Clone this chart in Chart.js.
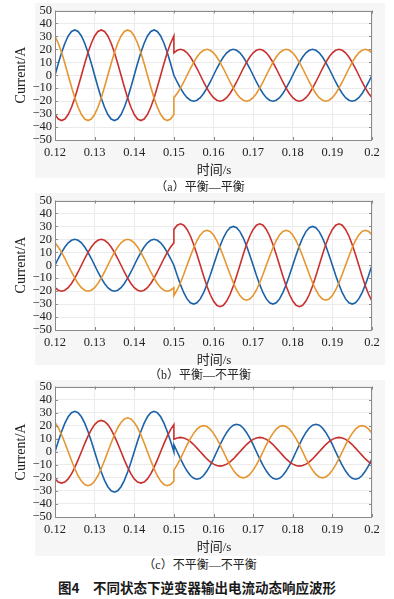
<!DOCTYPE html>
<html><head><meta charset="utf-8">
<script src="https://cdn.jsdelivr.net/npm/chart.js@4/dist/chart.umd.min.js"></script>
<style>
html,body{margin:0;padding:0;background:#fff}
body{width:394px;height:599px;position:relative;overflow:hidden;font-family:"Liberation Serif","Noto Sans CJK SC",serif;color:#222}
.bg{position:absolute;background:#f6f6f6}
canvas{position:absolute;left:0}
.c{position:absolute;white-space:nowrap;transform:translate(-50%,-50%)}
.yl{position:absolute;white-space:nowrap;transform:translate(-50%,-50%) rotate(-90deg);font-size:14px}
.xl{font-size:13px}
.cap{font-size:12px;font-family:"Liberation Serif","Noto Sans CJK SC",serif}
.fig{font-size:13.5px;font-weight:bold;font-family:"Noto Sans CJK SC",sans-serif;color:#1a1a1a}
</style></head>
<body>
<div class="bg" style="left:35px;top:3px;width:350px;height:175px"></div>
<div class="bg" style="left:35px;top:193px;width:350px;height:172px"></div>
<div class="bg" style="left:35px;top:380px;width:350px;height:176px"></div>
<canvas id="ca" width="394" height="160" style="top:0px"></canvas>
<canvas id="cb" width="394" height="160" style="top:190px"></canvas>
<canvas id="cc" width="394" height="161" style="top:376px"></canvas>
<div class="yl" style="left:21px;top:75px">Current/A</div>
<div class="yl" style="left:21px;top:265px">Current/A</div>
<div class="yl" style="left:21px;top:452px">Current/A</div>
<div class="c xl" style="left:214px;top:168px">时间/s</div>
<div class="c xl" style="left:214px;top:358px">时间/s</div>
<div class="c xl" style="left:214px;top:545px">时间/s</div>
<div class="c cap" style="left:200px;top:186px">（a）平衡—平衡</div>
<div class="c cap" style="left:200px;top:374px">（b）平衡—不平衡</div>
<div class="c cap" style="left:200px;top:564px">（c）不平衡—不平衡</div>
<div class="c fig" style="left:197px;top:587px">图4　不同状态下逆变器输出电流动态响应波形</div>
<script>
// time samples (s)
const tPre = [0.12,0.12083,0.12167,0.1225,0.12333,0.12417,
0.125,0.12583,0.12667,0.1275,0.12833,0.12917,
0.13,0.13083,0.13167,0.1325,0.13333,0.13417,
0.135,0.13583,0.13667,0.1375,0.13833,0.13917,
0.14,0.14083,0.14167,0.1425,0.14333,0.14417,
0.145,0.14583,0.14667,0.1475,0.14833,0.14917,
0.15];
const tPost = [0.15,0.15083,0.15167,0.1525,0.15333,0.15417,
0.155,0.15583,0.15667,0.1575,0.15833,0.15917,
0.16,0.16083,0.16167,0.1625,0.16333,0.16417,
0.165,0.16583,0.16667,0.1675,0.16833,0.16917,
0.17,0.17083,0.17167,0.1725,0.17333,0.17417,
0.175,0.17583,0.17667,0.1775,0.17833,0.17917,
0.18,0.18083,0.18167,0.1825,0.18333,0.18417,
0.185,0.18583,0.18667,0.1875,0.18833,0.18917,
0.19,0.19083,0.19167,0.1925,0.19333,0.19417,
0.195,0.19583,0.19667,0.1975,0.19833,0.19917,
0.2];

const xTickVals = [0.12,0.13,0.14,0.15,0.16,0.17,0.18,0.19,0.2];
const xTickLabels = ['0.12','0.13','0.14','0.15','0.16','0.17','0.18','0.19','0.2'];
const yTickVals = [-50,-40,-30,-20,-10,0,10,20,30,40,50];
const yTickLabels = ['\u221250','\u221240','\u221230','\u221220','\u221210','0','10','20','30','40','50'];

// (a) balanced -> balanced
const aBluePre = [0,9.1,17.5,24.7,30.3,33.8,35,33.8,30.3,24.7,17.5,9.1,0,-9.1,-17.5,-24.7,-30.3,-33.8,-35,-33.8,-30.3,-24.7,-17.5,-9.1,
0,9.1,17.5,24.7,30.3,33.8,35,33.8,30.3,24.7,17.5,9.1,0];
const aRedPre = [-30.3,-33.8,-35,-33.8,-30.3,-24.7,-17.5,-9.1,
0,9.1,17.5,24.7,30.3,33.8,35,33.8,30.3,24.7,17.5,9.1,0,-9.1,-17.5,-24.7,-30.3,-33.8,-35,-33.8,-30.3,-24.7,-17.5,-9.1,
0,9.1,17.5,24.7,30.3];
const aOrangePre = [30.3,24.7,17.5,9.1,0,-9.1,-17.5,-24.7,-30.3,-33.8,-35,-33.8,-30.3,-24.7,-17.5,-9.1,
0,9.1,17.5,24.7,30.3,33.8,35,33.8,30.3,24.7,17.5,9.1,0,-9.1,-17.5,-24.7,-30.3,-33.8,-35,-33.8,-30.3];
const aBluePost = [0,-5.2,-10,-14.1,-17.3,-19.3,-20,-19.3,-17.3,-14.1,-10,-5.2,
0,5.2,10,14.1,17.3,19.3,20,19.3,17.3,14.1,10,5.2,0,-5.2,-10,-14.1,-17.3,-19.3,-20,-19.3,-17.3,-14.1,-10,-5.2,
0,5.2,10,14.1,17.3,19.3,20,19.3,17.3,14.1,10,5.2,0,-5.2,-10,-14.1,-17.3,-19.3,-20,-19.3,-17.3,-14.1,-10,-5.2,
0];
const aRedPost = [17.3,19.3,20,19.3,17.3,14.1,10,5.2,0,-5.2,-10,-14.1,-17.3,-19.3,-20,-19.3,-17.3,-14.1,-10,-5.2,
0,5.2,10,14.1,17.3,19.3,20,19.3,17.3,14.1,10,5.2,0,-5.2,-10,-14.1,-17.3,-19.3,-20,-19.3,-17.3,-14.1,-10,-5.2,
0,5.2,10,14.1,17.3,19.3,20,19.3,17.3,14.1,10,5.2,0,-5.2,-10,-14.1,-17.3];
const aOrangePost = [-17.3,-14.1,-10,-5.2,
0,5.2,10,14.1,17.3,19.3,20,19.3,17.3,14.1,10,5.2,0,-5.2,-10,-14.1,-17.3,-19.3,-20,-19.3,-17.3,-14.1,-10,-5.2,
0,5.2,10,14.1,17.3,19.3,20,19.3,17.3,14.1,10,5.2,0,-5.2,-10,-14.1,-17.3,-19.3,-20,-19.3,-17.3,-14.1,-10,-5.2,
0,5.2,10,14.1,17.3,19.3,20,19.3,17.3];

// (b) balanced -> unbalanced
const bBluePre = [0,5.2,10,14.1,17.3,19.3,20,19.3,17.3,14.1,10,5.2,0,-5.2,-10,-14.1,-17.3,-19.3,-20,-19.3,-17.3,-14.1,-10,-5.2,
0,5.2,10,14.1,17.3,19.3,20,19.3,17.3,14.1,10,5.2,0];
const bRedPre = [-17.3,-19.3,-20,-19.3,-17.3,-14.1,-10,-5.2,
0,5.2,10,14.1,17.3,19.3,20,19.3,17.3,14.1,10,5.2,0,-5.2,-10,-14.1,-17.3,-19.3,-20,-19.3,-17.3,-14.1,-10,-5.2,
0,5.2,10,14.1,17.3];
const bOrangePre = [17.3,14.1,10,5.2,0,-5.2,-10,-14.1,-17.3,-19.3,-20,-19.3,-17.3,-14.1,-10,-5.2,
0,5.2,10,14.1,17.3,19.3,20,19.3,17.3,14.1,10,5.2,0,-5.2,-10,-14.1,-17.3,-19.3,-20,-19.3,-17.3];
const bBluePost = [0,-7.8,-15,-21.2,-26,-29,-30,-29,-26,-21.2,-15,-7.8,
0,7.8,15,21.2,26,29,30,29,26,21.2,15,7.8,0,-7.8,-15,-21.2,-26,-29,-30,-29,-26,-21.2,-15,-7.8,
0,7.8,15,21.2,26,29,30,29,26,21.2,15,7.8,0,-7.8,-15,-21.2,-26,-29,-30,-29,-26,-21.2,-15,-7.8,
0];
const bRedPost = [27.7,30.9,32,30.9,27.7,22.6,16,8.3,0,-8.3,-16,-22.6,-27.7,-30.9,-32,-30.9,-27.7,-22.6,-16,-8.3,
0,8.3,16,22.6,27.7,30.9,32,30.9,27.7,22.6,16,8.3,0,-8.3,-16,-22.6,-27.7,-30.9,-32,-30.9,-27.7,-22.6,-16,-8.3,
0,8.3,16,22.6,27.7,30.9,32,30.9,27.7,22.6,16,8.3,0,-8.3,-16,-22.6,-27.7];
const bOrangePost = [-23.4,-19.1,-13.5,-7,
0,7,13.5,19.1,23.4,26.1,27,26.1,23.4,19.1,13.5,7,0,-7,-13.5,-19.1,-23.4,-26.1,-27,-26.1,-23.4,-19.1,-13.5,-7,
0,7,13.5,19.1,23.4,26.1,27,26.1,23.4,19.1,13.5,7,0,-7,-13.5,-19.1,-23.4,-26.1,-27,-26.1,-23.4,-19.1,-13.5,-7,
0,7,13.5,19.1,23.4,26.1,27,26.1,23.4];

// (c) unbalanced -> unbalanced
const cBluePre = [0,8,15.5,21.9,26.8,29.9,31,29.9,26.8,21.9,15.5,8,0,-8,-15.5,-21.9,-26.8,-29.9,-31,-29.9,-26.8,-21.9,-15.5,-8,
0,8,15.5,21.9,26.8,29.9,31,29.9,26.8,21.9,15.5,8,0];
const cRedPre = [-20.8,-23.2,-24,-23.2,-20.8,-17,-12,-6.2,
0,6.2,12,17,20.8,23.2,24,23.2,20.8,17,12,6.2,0,-6.2,-12,-17,-20.8,-23.2,-24,-23.2,-20.8,-17,-12,-6.2,
0,6.2,12,17,20.8];
const cOrangePre = [22.5,18.4,13,6.7,0,-6.7,-13,-18.4,-22.5,-25.1,-26,-25.1,-22.5,-18.4,-13,-6.7,
0,6.7,13,18.4,22.5,25.1,26,25.1,22.5,18.4,13,6.7,0,-6.7,-13,-18.4,-22.5,-25.1,-26,-25.1,-22.5];
const cBluePost = [5.4,0,-5.4,-10.5,-14.8,-18.2,-20.3,-21,-20.3,-18.2,-14.8,-10.5,-5.4,
0,5.4,10.5,14.8,18.2,20.3,21,20.3,18.2,14.8,10.5,5.4,0,-5.4,-10.5,-14.8,-18.2,-20.3,-21,-20.3,-18.2,-14.8,-10.5,-5.4,
0,5.4,10.5,14.8,18.2,20.3,21,20.3,18.2,14.8,10.5,5.4,0,-5.4,-10.5,-14.8,-18.2,-20.3,-21,-20.3,-18.2,-14.8,-10.5,-5.4];
const cRedPost = [9.5,10.6,11,10.6,9.5,7.8,5.5,2.8,0,-2.8,-5.5,-7.8,-9.5,-10.6,-11,-10.6,-9.5,-7.8,-5.5,-2.8,
0,2.8,5.5,7.8,9.5,10.6,11,10.6,9.5,7.8,5.5,2.8,0,-2.8,-5.5,-7.8,-9.5,-10.6,-11,-10.6,-9.5,-7.8,-5.5,-2.8,
0,2.8,5.5,7.8,9.5,10.6,11,10.6,9.5,7.8,5.5,2.8,0,-2.8,-5.5,-7.8,-9.5];
const cOrangePost = [-14.1,-10,-5.2,
0,5.2,10,14.1,17.3,19.3,20,19.3,17.3,14.1,10,5.2,0,-5.2,-10,-14.1,-17.3,-19.3,-20,-19.3,-17.3,-14.1,-10,-5.2,
0,5.2,10,14.1,17.3,19.3,20,19.3,17.3,14.1,10,5.2,0,-5.2,-10,-14.1,-17.3,-19.3,-20,-19.3,-17.3,-14.1,-10,-5.2,
0,5.2,10,14.1,17.3,19.3,20,19.3,17.3,14.1];

const BLUE = '#1b62a8', RED = '#c9312e', ORANGE = '#e6952f';

function pts(pre, post){
  return tPre.map((x,i)=>({x:x, y:pre[i]})).concat(tPost.map((x,i)=>({x:x, y:post[i]})));
}

const frame = {
  id:'frame',
  beforeDraw(c){
    const a=c.chartArea, ctx=c.ctx;
    ctx.save(); ctx.fillStyle='#ffffff'; ctx.fillRect(a.left,a.top,a.right-a.left,a.bottom-a.top); ctx.restore();
  },
  afterDraw(c){
    const a=c.chartArea, ctx=c.ctx, x=c.scales.x, y=c.scales.y;
    ctx.save(); ctx.strokeStyle='#8a8a8a'; ctx.lineWidth=1;
    ctx.beginPath();
    x.ticks.forEach(t=>{const p=Math.round(x.getPixelForValue(t.value))+0.5;
      ctx.moveTo(p,a.bottom); ctx.lineTo(p,a.bottom-3); ctx.moveTo(p,a.top); ctx.lineTo(p,a.top+3);});
    y.ticks.forEach(t=>{const p=Math.round(y.getPixelForValue(t.value))+0.5;
      ctx.moveTo(a.left,p); ctx.lineTo(a.left+3,p); ctx.moveTo(a.right,p); ctx.lineTo(a.right-3,p);});
    ctx.stroke();
    ctx.strokeRect(Math.round(a.left)+0.5, Math.round(a.top)+0.5, Math.round(a.right-a.left)-1, Math.round(a.bottom-a.top)-1);
    ctx.restore();
  }
};

function make(id, blue, red, orange){
  const ds = (d,col)=>({data:d, borderColor:col, borderWidth:1.6, pointRadius:0, tension:0, fill:false});
  new Chart(document.getElementById(id), {
    type:'line',
    data:{datasets:[ds(pts(orange[0],orange[1]),ORANGE), ds(pts(red[0],red[1]),RED), ds(pts(blue[0],blue[1]),BLUE)]},
    options:{
      responsive:false, animation:false, devicePixelRatio:1,
      layout:{padding:{left:0,right:22,top:10,bottom:0}},
      plugins:{legend:{display:false}, tooltip:{enabled:false}},
      scales:{
        x:{type:'linear', min:0.12, max:0.2,
          afterBuildTicks:s=>{s.ticks = xTickVals.map(v=>({value:v}));},
          afterFit:s=>{s.height=20;},
          grid:{color:'#ebebeb', drawTicks:false}, border:{display:false},
          ticks:{padding:5, autoSkip:false, maxRotation:0, color:'#222',
            font:{family:'Liberation Serif', size:12.5}, callback:(v,i)=>xTickLabels[i]}},
        y:{type:'linear', min:-50, max:50,
          afterBuildTicks:s=>{s.ticks = yTickVals.map(v=>({value:v}));},
          afterFit:s=>{s.width=55;},
          grid:{color:'#ebebeb', drawTicks:false}, border:{display:false},
          ticks:{padding:3, autoSkip:false, color:'#222',
            font:{family:'Liberation Serif', size:12.5}, callback:(v,i)=>yTickLabels[i]}}
      }
    },
    plugins:[frame]
  });
}

make('ca',[aBluePre,aBluePost],[aRedPre,aRedPost],[aOrangePre,aOrangePost]);
make('cb',[bBluePre,bBluePost],[bRedPre,bRedPost],[bOrangePre,bOrangePost]);
make('cc',[cBluePre,cBluePost],[cRedPre,cRedPost],[cOrangePre,cOrangePost]);
</script>
</body></html>
